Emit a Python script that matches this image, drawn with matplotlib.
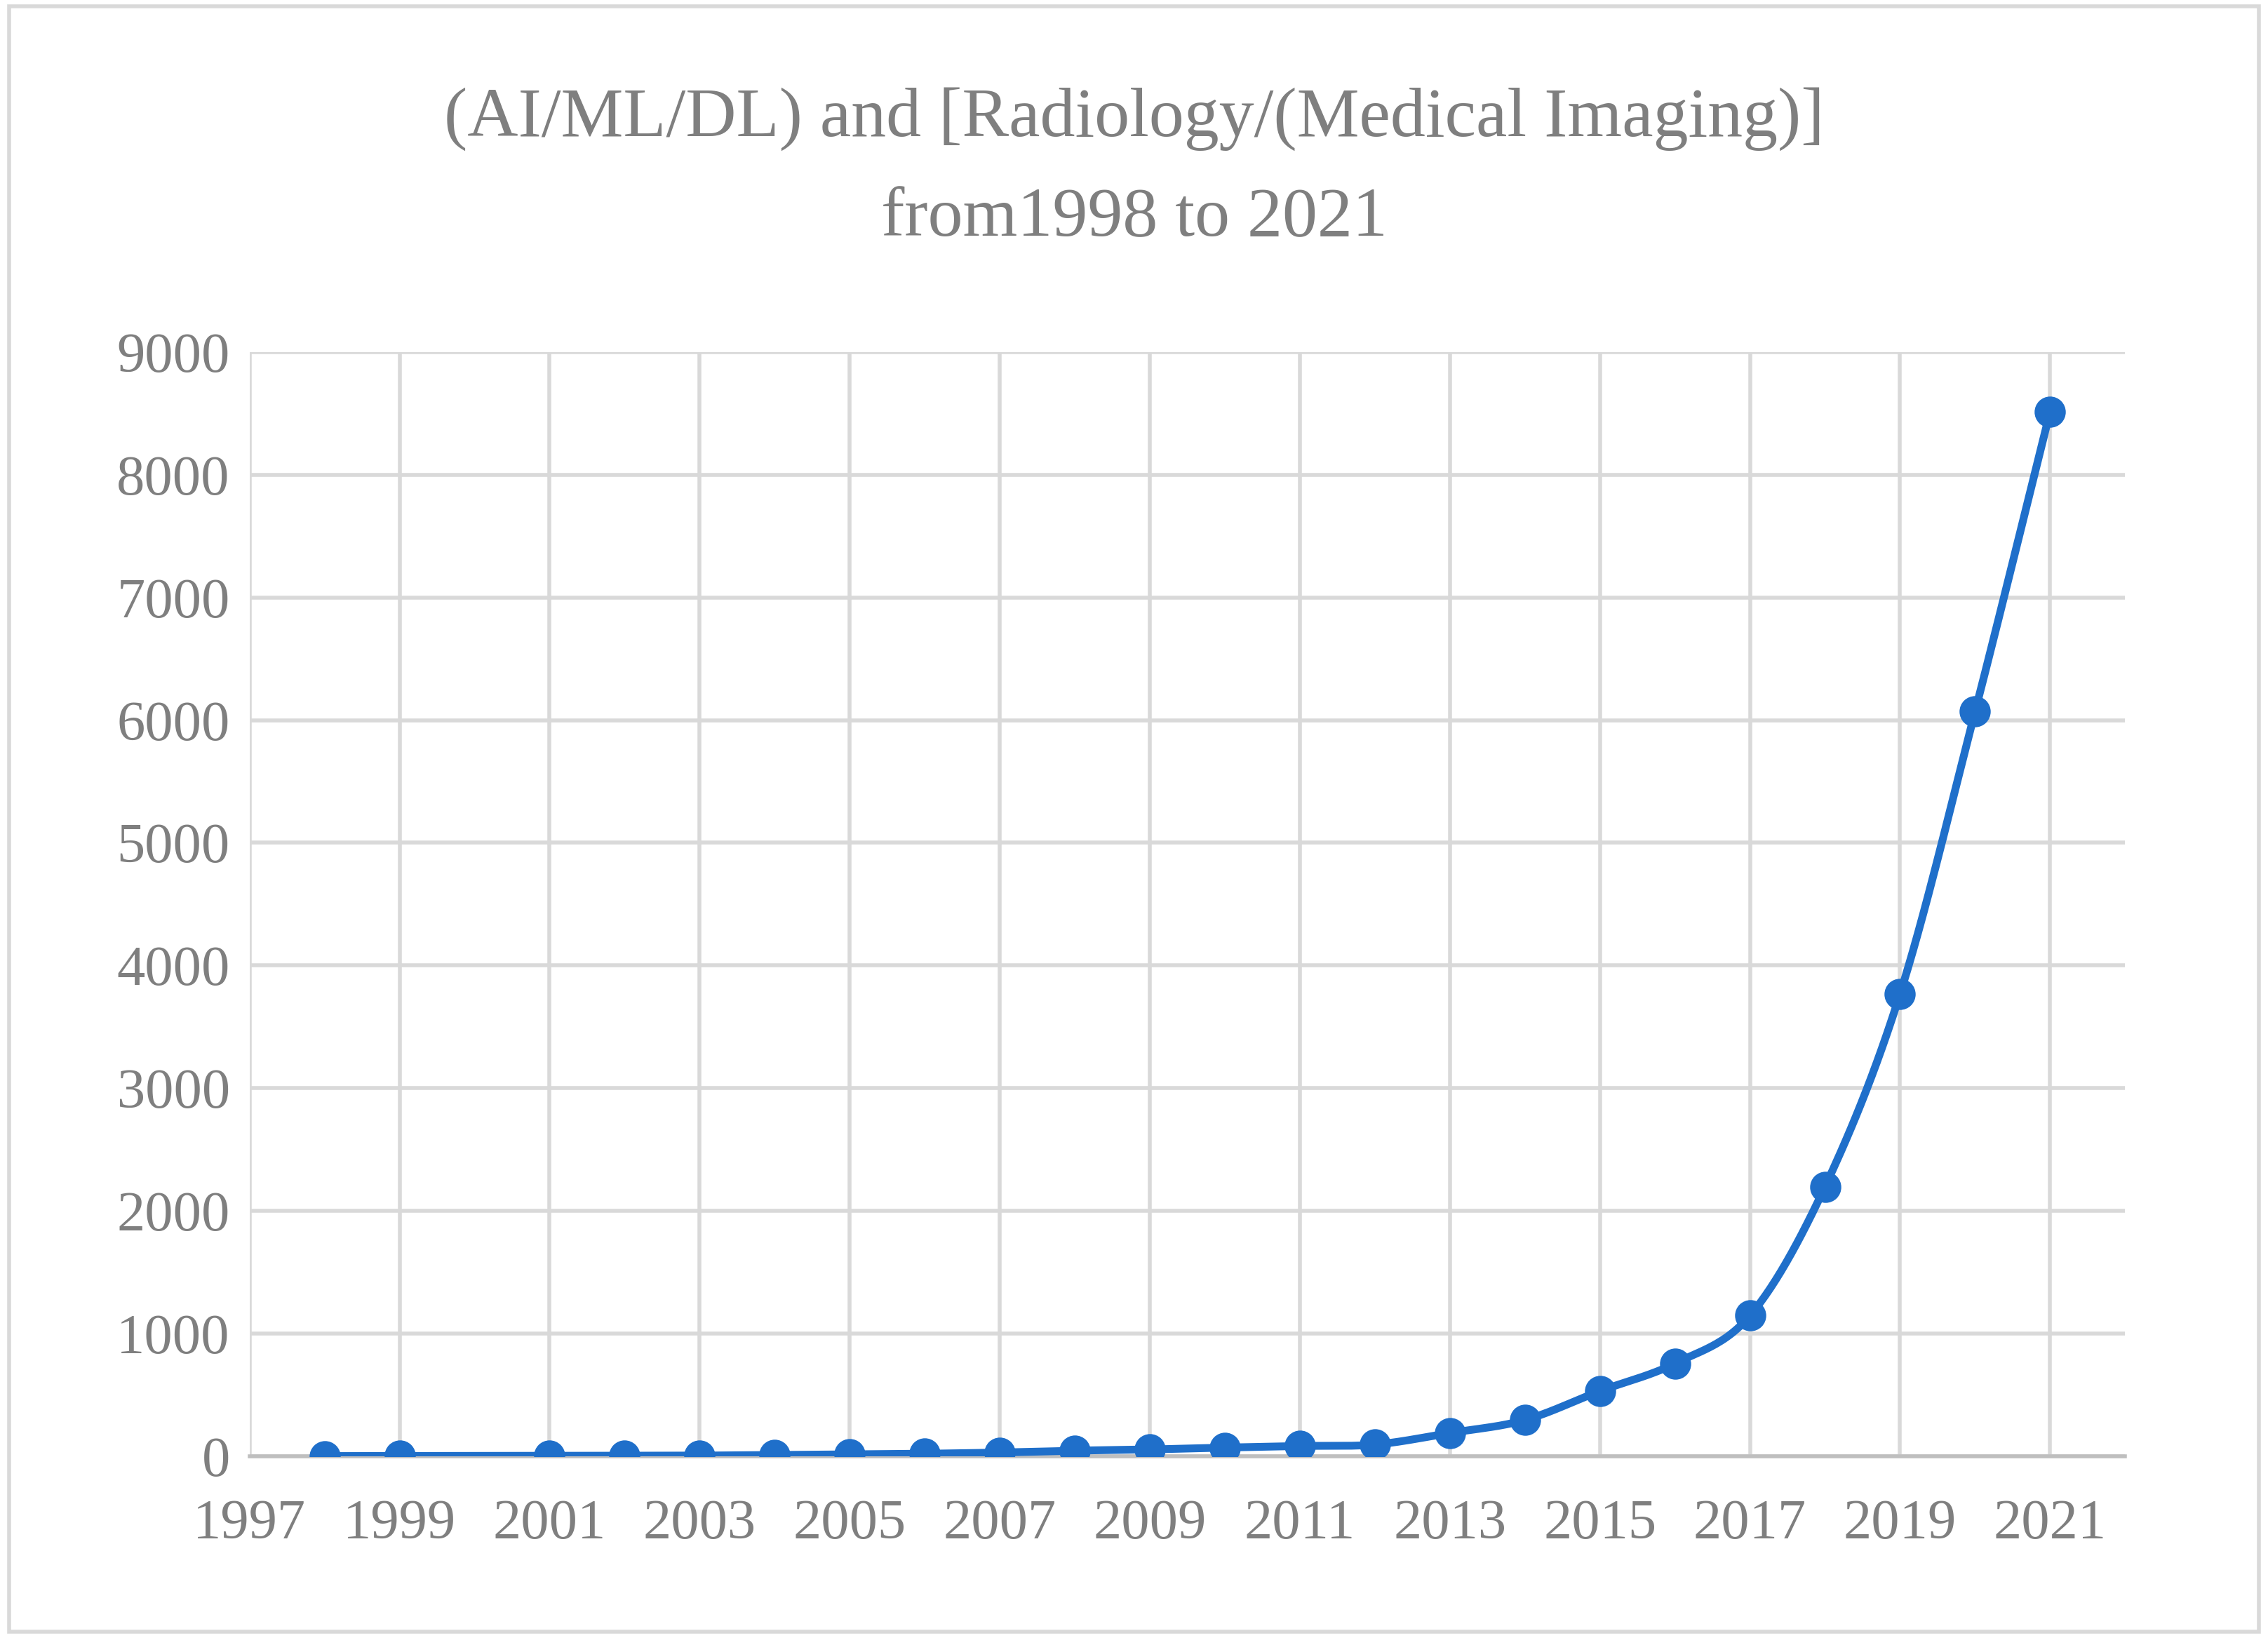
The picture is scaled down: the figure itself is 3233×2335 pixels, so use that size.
import numpy as np
import matplotlib.pyplot as plt
from matplotlib.patches import Rectangle

years = [1998, 1999, 2001, 2002, 2003, 2004, 2005, 2006, 2007, 2008, 2009, 2010,
         2011, 2012, 2013, 2014, 2015, 2016, 2017, 2018, 2019, 2020, 2021]
counts = [1, 2, 3, 4, 5, 10, 15, 20, 30, 45, 55, 70,
          83, 95, 189, 295, 531, 756, 1146, 2197, 3768, 6070, 8515]

plt.rcParams['font.family'] = ['Liberation Serif', 'DejaVu Serif']
gray = '#7f7f7f'
blue = '#1f6fca'


def smooth(x, y, n=30):
    # Catmull-Rom, close to Excel's smoothed line
    x = np.asarray(x, float); y = np.asarray(y, float)
    px = np.concatenate([[2*x[0]-x[1]], x, [2*x[-1]-x[-2]]])
    py = np.concatenate([[2*y[0]-y[1]], y, [2*y[-1]-y[-2]]])
    xs, ys = [], []
    t = np.linspace(0, 1, n)
    for i in range(1, len(px)-2):
        for p, out in ((px, xs), (py, ys)):
            p0, p1, p2, p3 = p[i-1], p[i], p[i+1], p[i+2]
            out.extend(0.5*((2*p1) + (-p0+p2)*t + (2*p0-5*p1+4*p2-p3)*t**2
                            + (-p0+3*p1-3*p2+p3)*t**3))
    return xs, ys


fig = plt.figure(figsize=(3233/200, 2335/200), dpi=200)
fig.patches.append(Rectangle((0.004, 0.004), 0.992, 0.992, transform=fig.transFigure,
                             fill=False, edgecolor='#d9d9d9', lw=2))
ax = fig.add_axes([0.110, 0.111, 0.827, 0.674])

sx, sy = smooth(years, counts)
ax.plot(sx, sy, color=blue, lw=4, zorder=3)
ax.plot(years, counts, 'o', color=blue, ms=15, zorder=4)

ax.set_xlim(1997, 2022)
ax.set_ylim(0, 9000)
ax.set_xticks(range(1997, 2022, 2))
ax.set_yticks(range(0, 9001, 1000))
ax.grid(True, color='#d9d9d9', lw=2)
ax.set_axisbelow(True)
for s in ['top', 'right', 'left']:
    ax.spines[s].set_visible(False)
ax.spines['bottom'].set_color('#bfbfbf')
ax.spines['bottom'].set_linewidth(2)
ax.tick_params(length=0, labelsize=29, colors=gray)
ax.tick_params(axis='x', pad=22)
ax.tick_params(axis='y', pad=10)

fig.text(0.5, 0.897, '(AI/ML/DL) and [Radiology/(Medical Imaging)]\nfrom1998 to 2021',
         ha='center', va='center', fontsize=36, color=gray, linespacing=1.75)

fig.savefig('out.png', dpi=200)
